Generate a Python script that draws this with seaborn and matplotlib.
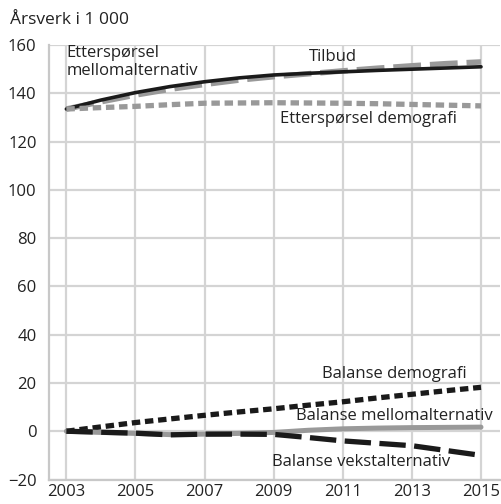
import pandas as pd
import seaborn as sns
import matplotlib.pyplot as plt
from matplotlib.ticker import MultipleLocator

# Data (årsverk i 1 000)
years = [2003, 2004, 2005, 2006, 2007, 2008, 2009, 2010, 2011, 2012, 2013, 2014, 2015]
tilbud = [133.5, 136.5, 139.3, 141.7, 143.7, 145.5, 146.9, 148.1, 149.3, 150.4, 151.4, 152.3, 153.0]
ettersp_mellom = [133.5, 137.2, 140.3, 142.8, 144.8, 146.4, 147.6, 148.3, 148.9, 149.5, 150.0, 150.5, 151.0]
ettersp_demografi = [133.5, 134.1, 134.6, 135.3, 135.9, 136.0, 136.1, 136.0, 135.9, 135.7, 135.4, 135.1, 134.8]
bal_demografi = [0.0, 1.8, 3.6, 5.1, 6.6, 8.0, 9.3, 10.8, 12.2, 13.8, 15.3, 16.8, 18.2]
bal_mellom = [0.0, -0.5, -0.9, -1.4, -1.2, -0.9, -0.5, 0.4, 1.0, 1.3, 1.5, 1.6, 1.7]
bal_vekst = [0.0, -0.4, -0.8, -1.5, -1.2, -1.2, -1.3, -2.6, -4.0, -5.0, -6.0, -8.0, -10.0]

series = [
    ("Tilbud", tilbud, "#999999", 4.0, (0, (5, 1.6))),
    ("Etterspørsel mellomalternativ", ettersp_mellom, "#1a1a1a", 2.6, "-"),
    ("Etterspørsel demografi", ettersp_demografi, "#999999", 3.8, (0, (1.6, 0.9))),
    ("Balanse demografi", bal_demografi, "#1a1a1a", 3.8, (0, (1.6, 0.9))),
    ("Balanse mellomalternativ", bal_mellom, "#999999", 3.6, "-"),
    ("Balanse vekstalternativ", bal_vekst, "#1a1a1a", 3.8, (0, (5, 1.6))),
]

sns.set_style("white")
plt.rcParams["font.family"] = ["Open Sans", "DejaVu Sans"]

fig = plt.figure(figsize=(5.01, 5.04), dpi=100)
ax = fig.add_axes([0.098, 0.0486, 0.9, 0.862])

for name, vals, color, lw, ls in series:
    df = pd.DataFrame({"År": years, "Verdi": vals})
    sns.lineplot(data=df, x="År", y="Verdi", ax=ax, color=color, linewidth=lw,
                 linestyle=ls, zorder=3)

ax.set_xlim(2002.5, 2015.55)
ax.set_ylim(-20, 160)
ax.set_xticks(range(2003, 2016, 2))
ax.xaxis.set_minor_locator(MultipleLocator(1))
ax.yaxis.set_major_locator(MultipleLocator(20))
ax.grid(True, which="major", color="#d4d4d4", linewidth=1.6, zorder=0)
ax.set_axisbelow(True)
for s in ["top", "right"]:
    ax.spines[s].set_visible(False)
for s in ["left", "bottom"]:
    ax.spines[s].set_color("#c8c8c8")
    ax.spines[s].set_linewidth(1.6)
ax.tick_params(axis="both", which="major", length=0, labelsize=12, colors="#222222", pad=8)
ax.tick_params(axis="y", pad=9)
ax.tick_params(axis="x", which="major", pad=3)
ax.tick_params(axis="x", which="minor", direction="in", length=6, width=1.6, color="#c8c8c8")
ax.set_xlabel("")
ax.set_ylabel("")

fig.text(0.02, 0.96, "Årsverk i 1 000", fontsize=12.5, color="#222222", va="center")

txt = dict(fontsize=12, color="#222222")
ax.text(2003.0, 156.7, "Etterspørsel", va="center", ha="left", **txt)
ax.text(2003.0, 149.4, "mellomalternativ", va="center", ha="left", **txt)
ax.text(2010.7, 155.0, "Tilbud", ha="center", va="center", **txt)
ax.text(2011.74, 129.4, "Etterspørsel demografi", ha="center", va="center", **txt)
ax.text(2012.5, 23.6, "Balanse demografi", ha="center", va="center", **txt)
ax.text(2012.5, 6.2, "Balanse mellomalternativ", ha="center", va="center", **txt)
ax.text(2011.53, -12.8, "Balanse vekstalternativ", ha="center", va="center", **txt)

fig.savefig("out.png", dpi=100)
